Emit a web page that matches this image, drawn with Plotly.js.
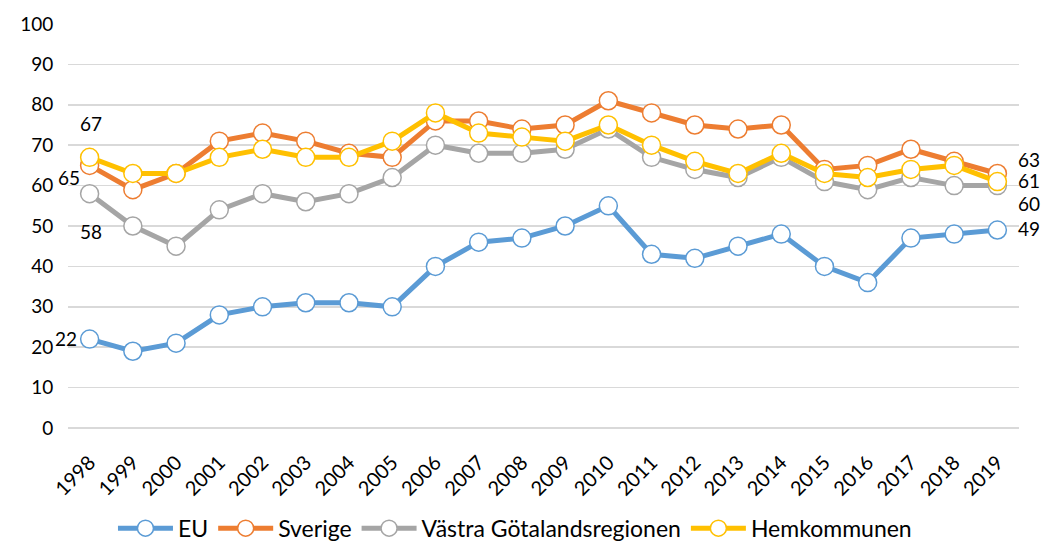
<!DOCTYPE html>
<html><head><meta charset="utf-8">
<script src="https://cdn.plot.ly/plotly-3.0.1.min.js"></script>
<style>body{margin:0;background:#fff}#c{width:1043px;height:546px}</style>
</head><body><div id="c"></div>
<script>
const years = ["1998","1999","2000","2001","2002","2003","2004","2005","2006","2007","2008","2009","2010","2011","2012","2013","2014","2015","2016","2017","2018","2019"];
const eu = [22,19,21,28,30,31,31,30,40,46,47,50,55,43,42,45,48,40,36,47,48,49];
const sverige = [65,59,63,71,73,71,68,67,76,76,74,75,81,78,75,74,75,64,65,69,66,63];
const vgr = [58,50,45,54,58,56,58,62,70,68,68,69,74,67,64,62,67,61,59,62,60,60];
const hem = [67,63,63,67,69,67,67,71,78,73,72,71,75,70,66,63,68,63,62,64,65,61];
const names = ["EU","Sverige","Västra Götalandsregionen","Hemkommunen"];
const colors = ["#5B9BD5","#ED7D31","#A5A5A5","#FFC000"];
const series = [eu, sverige, vgr, hem];

// label placement styles (first and last point of each series)
const firstStyle = [
  {xanchor: "right", xshift: -11, yshift: 1},
  {xanchor: "right", xshift: -8, yshift: -12},
  {xanchor: "center", xshift: 1, yshift: -38},
  {xanchor: "center", xshift: 1, yshift: 34}
];
const lastStyle = [
  {xanchor: "left", xshift: 19, yshift: 2},
  {xanchor: "left", xshift: 19, yshift: 14},
  {xanchor: "left", xshift: 19, yshift: -18},
  {xanchor: "left", xshift: 19, yshift: 1}
];
const labelFont = {family: "Lato, 'Open Sans', sans-serif", size: 19, color: "#000"};

const traces = series.map((vals, i) => ({
  x: years, y: vals, name: names[i], type: "scatter", mode: "lines+markers",
  line: {color: colors[i], width: 5},
  marker: {symbol: "circle", size: 18, color: "#fff", line: {color: colors[i], width: 1.5}},
  cliponaxis: false, hoverinfo: "skip"
}));

const annotations = [];
series.forEach((vals, i) => {
  const n = vals.length;
  const pairs = [[0, firstStyle[i]], [n - 1, lastStyle[i]]];
  pairs.forEach(function (p) {
    const j = p[0], st = p[1];
    annotations.push({x: j, y: vals[j], xref: "x", yref: "y", text: String(vals[j]),
      showarrow: false, xanchor: st.xanchor, yanchor: "middle", xshift: st.xshift, yshift: st.yshift,
      font: labelFont});
  });
});

const layout = {
  width: 1043, height: 546,
  margin: {l: 68, r: 24, t: 24, b: 118, autoexpand: false},
  paper_bgcolor: "#fff", plot_bgcolor: "#fff",
  font: {family: "Lato, 'Open Sans', sans-serif", size: 19, color: "#000"},
  showlegend: true,
  legend: {orientation: "h", x: 0.47, xanchor: "center",
           y: -0.248, yanchor: "middle",
           font: {size: 23, color: "#000"}, itemwidth: 55, traceorder: "normal"},
  annotations: annotations,
  xaxis: {type: "category", range: [-0.5, 21.5], tickangle: -45, showgrid: false,
          showline: false, zeroline: false, ticks: "outside", ticklen: 14, tickcolor: "rgba(0,0,0,0)",
          tickfont: {size: 20}, fixedrange: true, automargin: false},
  yaxis: {range: [0, 100], dtick: 10, showgrid: true, gridcolor: "#d9d9d9", gridwidth: 1.5,
          zeroline: true, zerolinecolor: "#d9d9d9", zerolinewidth: 1.5,
          showline: false, ticks: "outside", ticklen: 10, tickcolor: "rgba(0,0,0,0)",
          tickfont: {size: 19}, fixedrange: true, automargin: false}
};
Plotly.newPlot("c", traces, layout, {displayModeBar: false, staticPlot: true});
</script></body></html>
